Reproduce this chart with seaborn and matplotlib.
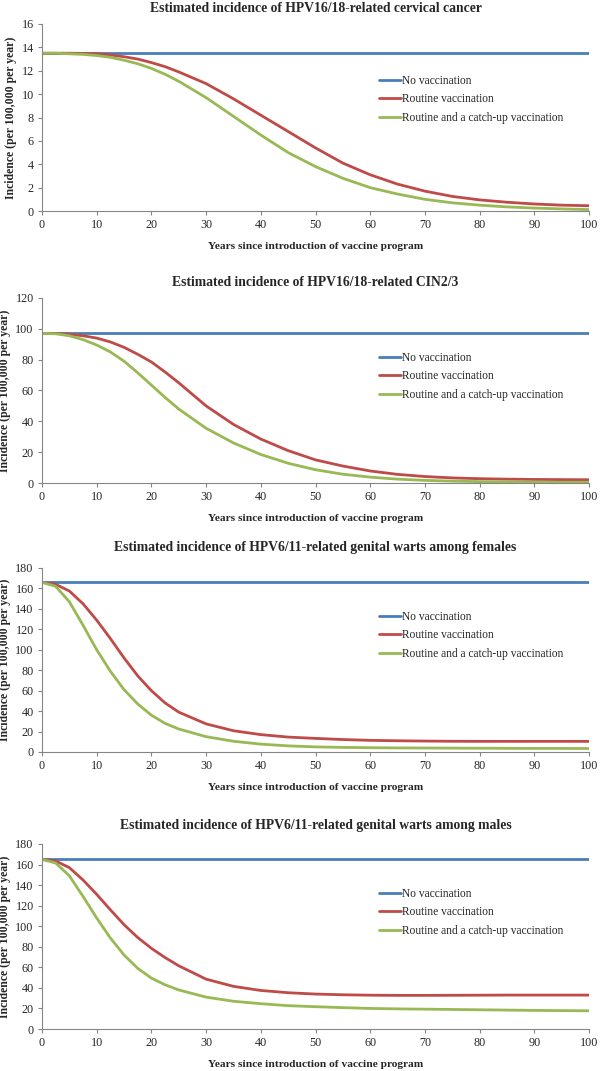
import matplotlib
matplotlib.use("Agg")
import matplotlib.pyplot as plt
import seaborn as sns
import pandas as pd

# Years
years = [0, 2.5, 5, 7.5, 10, 12.5, 15, 17.5, 20, 22.5, 25, 30, 35, 40, 45, 50,
         55, 60, 65, 70, 75, 80, 85, 90, 95, 100]
flat_years = [0, 100]

# HPV16/18-related cervical cancer
cc_none = [13.5, 13.5]
cc_routine = [13.5, 13.5, 13.5, 13.48, 13.45, 13.35, 13.2, 13.0, 12.7, 12.35, 11.9, 10.9, 9.6,
              8.2, 6.8, 5.4, 4.1, 3.1, 2.3, 1.7, 1.25, 0.95, 0.75, 0.6, 0.5, 0.45]
cc_catchup = [13.5, 13.5, 13.45, 13.4, 13.3, 13.15, 12.9, 12.6, 12.2, 11.7, 11.1, 9.7, 8.1,
              6.5, 5.0, 3.8, 2.8, 2.0, 1.45, 1.0, 0.7, 0.5, 0.35, 0.25, 0.18, 0.12]

# HPV16/18-related CIN2/3
cin_none = [97, 97]
cin_routine = [97, 97, 96.5, 95.5, 94, 91.5, 88, 83.5, 78.5, 72, 65, 50, 38, 28.5, 21, 15,
               11, 7.8, 5.6, 4.2, 3.3, 2.8, 2.5, 2.3, 2.2, 2.1]
cin_catchup = [97, 96.8, 95.5, 93, 89.5, 85, 79, 71.5, 63.5, 55.5, 48, 35.5, 26, 18.5, 12.8,
               8.6, 5.7, 3.8, 2.5, 1.7, 1.2, 0.9, 0.7, 0.6, 0.5, 0.5]

# HPV6/11-related genital warts, females
gwf_none = [166, 166]
gwf_routine = [166, 164, 157.5, 145, 129, 111, 92, 74.5, 60, 48, 39, 27.5, 20.8, 17, 14.6,
               13.3, 12.2, 11.4, 11, 10.7, 10.5, 10.4, 10.4, 10.4, 10.4, 10.4]
gwf_catchup = [166, 162, 147, 124, 100, 79, 61, 47, 36, 28, 22.5, 15, 10.5, 7.7, 6, 5,
               4.5, 4.2, 4, 3.9, 3.8, 3.7, 3.6, 3.5, 3.5, 3.4]

# HPV6/11-related genital warts, males
gwm_none = [165, 165]
gwm_routine = [165, 163.5, 157, 145, 131, 116, 101.5, 89, 78.5, 69.5, 61.5, 48.5, 41.5, 37.5,
               35.3, 34, 33.3, 32.9, 32.7, 32.7, 32.8, 32.9, 33, 33, 33, 33]
gwm_catchup = [165, 161.5, 149, 129, 108, 88.5, 72, 59, 49.5, 43, 38, 31, 27, 24.6, 22.7, 21.7,
               20.8, 20, 19.6, 19.3, 19, 18.7, 18.4, 18.1, 17.9, 17.7]

titles = ["Estimated incidence of HPV16/18-related cervical cancer",
          "Estimated incidence of HPV16/18-related CIN2/3",
          "Estimated incidence of HPV6/11-related genital warts among females",
          "Estimated incidence of HPV6/11-related genital warts among males"]
labels = ["No vaccination", "Routine vaccination", "Routine and a catch-up vaccination"]
colors = ["#4A7EBB", "#BE4B48", "#98B954"]

panels = [
    (cc_none, cc_routine, cc_catchup, 16, 2),
    (cin_none, cin_routine, cin_catchup, 120, 20),
    (gwf_none, gwf_routine, gwf_catchup, 180, 20),
    (gwm_none, gwm_routine, gwm_catchup, 180, 20),
]

sns.set_style("white")
plt.rcParams["font.family"] = ["Liberation Serif", "DejaVu Serif"]

W, H = 600, 1071
fig = plt.figure(figsize=(W / 100, H / 100), dpi=100)

# pixel boxes of the plot areas: (top, bottom)
boxes = [(24, 211), (298, 483), (568, 752), (844, 1029)]
title_y = [8, 282, 548, 825]
legend_y = [75, 352, 611, 888]
left, right = 42, 589

for i, (none, routine, catchup, ymax, ystep) in enumerate(panels):
    top, bot = boxes[i]
    ax = fig.add_axes([left / W, (H - bot) / H, (right - left) / W, (bot - top) / H])
    df = pd.concat([
        pd.DataFrame({"Year": flat_years, "Incidence": none, "Scenario": labels[0]}),
        pd.DataFrame({"Year": years, "Incidence": routine, "Scenario": labels[1]}),
        pd.DataFrame({"Year": years, "Incidence": catchup, "Scenario": labels[2]}),
    ])
    sns.lineplot(data=df, x="Year", y="Incidence", hue="Scenario", palette=colors,
                 linewidth=2, ax=ax)
    ax.set_xlim(0, 100)
    ax.set_ylim(0, ymax)
    ax.set_xticks(range(0, 101, 10))
    ax.set_yticks(range(0, ymax + 1, ystep))
    ax.tick_params(axis="both", labelsize=8.7, direction="out", length=3, width=0.8,
                   color="#868686", pad=3, left=True, bottom=True)
    for side in ["top", "right"]:
        ax.spines[side].set_visible(False)
    for side in ["left", "bottom"]:
        ax.spines[side].set_color("#868686")
        ax.spines[side].set_linewidth(0.8)
    ax.set_xlabel("Years since introduction of vaccine program", fontsize=8.2, fontweight="bold",
                  labelpad=8)
    ax.set_ylabel("Incidence (per 100,000 per year)", fontsize=8.5, fontweight="bold", labelpad=3)
    fig.text((left + right) / 2 / W, 1 - title_y[i] / H, titles[i], ha="center", va="center",
             fontsize=9.8, fontweight="bold")
    ax.legend(loc="upper left", bbox_to_anchor=(379 / W, 1 - legend_y[i] / H),
              bbox_transform=fig.transFigure, frameon=False, fontsize=8.3, borderpad=0,
              handlelength=1.9, handletextpad=0.1, labelspacing=0.55, borderaxespad=0)

fig.savefig("out.png", dpi=100)
